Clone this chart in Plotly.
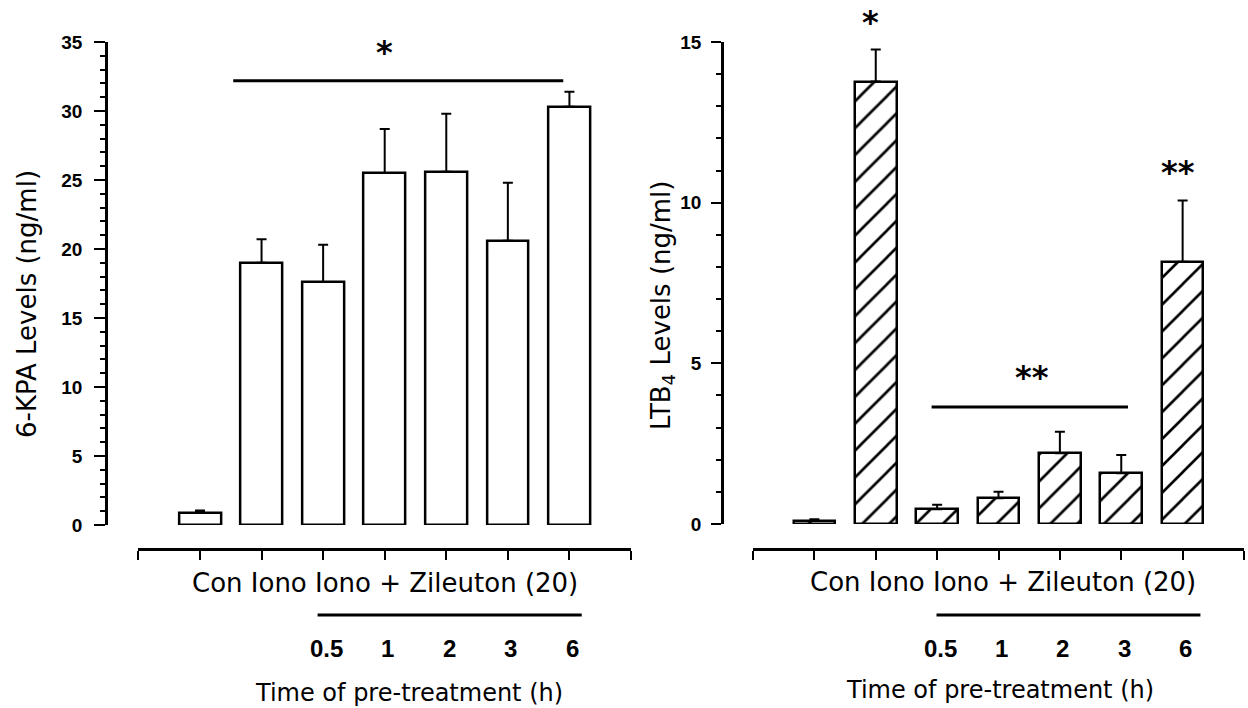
import plotly.graph_objects as go

# ---------------- data ----------------
positions = [0, 1, 2, 3, 4, 5, 6]          # Con, Iono, Iono+Zileuton at 0.5,1,2,3,6 h
time_labels = ["0.5", "1", "2", "3", "6"]

kpa_values = [0.9, 19.0, 17.6, 25.5, 25.6, 20.6, 30.3]
kpa_errors = [0.15, 1.7, 2.7, 3.2, 4.2, 4.2, 1.1]

ltb4_values = [0.1, 13.77, 0.46, 0.8, 2.2, 1.58, 8.16]
ltb4_errors = [0.05, 1.0, 0.14, 0.2, 0.67, 0.57, 1.91]

kpa_sig_line = dict(x=[0.54, 5.9], y=[32.2, 32.2])
ltb4_sig_line = dict(x=[1.91, 5.11], y=[3.64, 3.64])

kpa_yticks = [0, 5, 10, 15, 20, 25, 30, 35]
ltb4_yticks = [0, 5, 10, 15]
x_ticks = [-1, 0, 1, 2, 3, 4, 5, 6, 7]

group_label = "Con Iono Iono + Zileuton (20)"
time_title = "Time of pre-treatment (h)"

# ---------------- figure ----------------
W, H = 1248, 708
def px(x):
    return x / W
def py(y):
    return 1 - y / H

TXT = "DejaVu Sans"
NUM = "Liberation Sans"

fig = go.Figure()

fig.add_trace(go.Bar(
    x=positions, y=kpa_values, width=0.68,
    marker=dict(color="white", line=dict(color="black", width=2.5)),
    error_y=dict(type="data", symmetric=False, array=kpa_errors,
                 arrayminus=[0] * len(kpa_errors), color="black", thickness=2, width=5),
    xaxis="x", yaxis="y", showlegend=False,
))
fig.add_trace(go.Bar(
    x=positions, y=ltb4_values, width=0.68,
    marker=dict(color="white", line=dict(color="black", width=2.5),
                pattern=dict(shape="/", size=19, solidity=0.14, fgopacity=1,
                             fgcolor="black", bgcolor="white", fillmode="overlay")),
    error_y=dict(type="data", symmetric=False, array=ltb4_errors,
                 arrayminus=[0] * len(ltb4_errors), color="black", thickness=2, width=5),
    xaxis="x2", yaxis="y2", showlegend=False,
))
fig.add_trace(go.Scatter(x=kpa_sig_line["x"], y=kpa_sig_line["y"], mode="lines",
                         line=dict(color="black", width=3), xaxis="x", yaxis="y",
                         showlegend=False, hoverinfo="skip"))
fig.add_trace(go.Scatter(x=ltb4_sig_line["x"], y=ltb4_sig_line["y"], mode="lines",
                         line=dict(color="black", width=3), xaxis="x2", yaxis="y2",
                         showlegend=False, hoverinfo="skip"))

xaxis_common = dict(range=[-1, 7], tickmode="array", tickvals=x_ticks, showticklabels=False,
                    ticks="outside", ticklen=9, tickwidth=2, tickcolor="black",
                    showline=True, linecolor="black", linewidth=3, showgrid=False,
                    zeroline=False, anchor="free", position=py(549), fixedrange=True)
yaxis_common = dict(ticks="outside", tickwidth=2, tickcolor="black", showline=True,
                    linecolor="black", linewidth=2.5, showgrid=False, zeroline=False,
                    anchor="free", tickfont=dict(family=NUM, size=19, color="black", weight="bold"),
                    minor=dict(dtick=1, ticks="outside", ticklen=5, tickwidth=2, tickcolor="black"),
                    fixedrange=True)

fig.update_layout(
    width=W, height=H, margin=dict(l=0, r=0, t=0, b=0, autoexpand=False),
    paper_bgcolor="white", plot_bgcolor="white", bargap=0,
    xaxis=dict(domain=[px(138.4), px(631)], **xaxis_common),
    xaxis2=dict(domain=[px(753), px(1244)], **xaxis_common),
    yaxis=dict(domain=[py(525), py(42)], range=[0, 35], tickmode="array", tickvals=kpa_yticks,
               ticklen=11, ticklabelstandoff=8, position=px(106), **yaxis_common),
    yaxis2=dict(domain=[py(524), py(42)], range=[0, 15], tickmode="array", tickvals=ltb4_yticks,
                ticklen=10, ticklabelstandoff=6, position=px(722), **yaxis_common),
)

ann = []
# y-axis titles
ann.append(dict(text="6-KPA Levels (ng/ml)", xref="paper", yref="paper", x=px(27), y=py(304),
                xanchor="center", yanchor="middle",
                textangle=-90, showarrow=False, font=dict(family=TXT, size=26, color="black")))
ann.append(dict(text="LTB<sub>4</sub> Levels (ng/ml)", xref="paper", yref="paper", x=px(662), y=py(305),
                xanchor="center", yanchor="middle",
                textangle=-90, showarrow=False, font=dict(family=TXT, size=26, color="black")))

# significance stars
star_font = dict(family=TXT, size=32, color="black", weight="bold")
ann.append(dict(text="*", xref="x", yref="y", x=3.0, y=kpa_sig_line["y"][0], yshift=29,
                xanchor="center", yanchor="middle", showarrow=False, font=star_font))
ann.append(dict(text="*", xref="x2", yref="y2", x=0.92, y=ltb4_values[1] + ltb4_errors[1], yshift=27,
                xanchor="center", yanchor="middle", showarrow=False, font=star_font))
ann.append(dict(text="**", xref="x2", yref="y2", x=5.92, y=ltb4_values[6] + ltb4_errors[6], yshift=28,
                xanchor="center", yanchor="middle", showarrow=False, font=star_font))
ann.append(dict(text="**", xref="x2", yref="y2", x=3.55, y=ltb4_sig_line["y"][0], yshift=30,
                xanchor="center", yanchor="middle", showarrow=False, font=star_font))

# group labels below each axis
for xr, gx, gy, tx, ty in [("x", 3.0, 583, 3.39, 693), ("x2", 3.07, 582, 3.02, 690)]:
    ann.append(dict(text=group_label, xref=xr, yref="paper", x=gx, y=py(gy),
                    xanchor="center", yanchor="middle",
                    showarrow=False, font=dict(family=TXT, size=26, color="black")))
    ann.append(dict(text=time_title, xref=xr, yref="paper", x=tx, y=py(ty),
                    xanchor="center", yanchor="middle",
                    showarrow=False, font=dict(family=TXT, size=24, color="black")))
    for i, lab in enumerate(time_labels):
        ann.append(dict(text=lab, xref=xr, yref="paper", x=positions[i + 2] + 0.05, y=py(648),
                        xanchor="center", yanchor="middle", showarrow=False,
                        font=dict(family=NUM, size=24, color="black", weight="bold")))

fig.update_layout(annotations=ann)

# underline below the group label
fig.add_shape(type="line", xref="x", yref="paper", x0=1.91, x1=6.2, y0=py(615), y1=py(615),
              line=dict(color="black", width=3))
fig.add_shape(type="line", xref="x2", yref="paper", x0=1.99, x1=6.29, y0=py(615), y1=py(615),
              line=dict(color="black", width=3))

fig.write_html("out.html", config={"displayModeBar": False},
               post_script="document.body.style.margin='0px';")
